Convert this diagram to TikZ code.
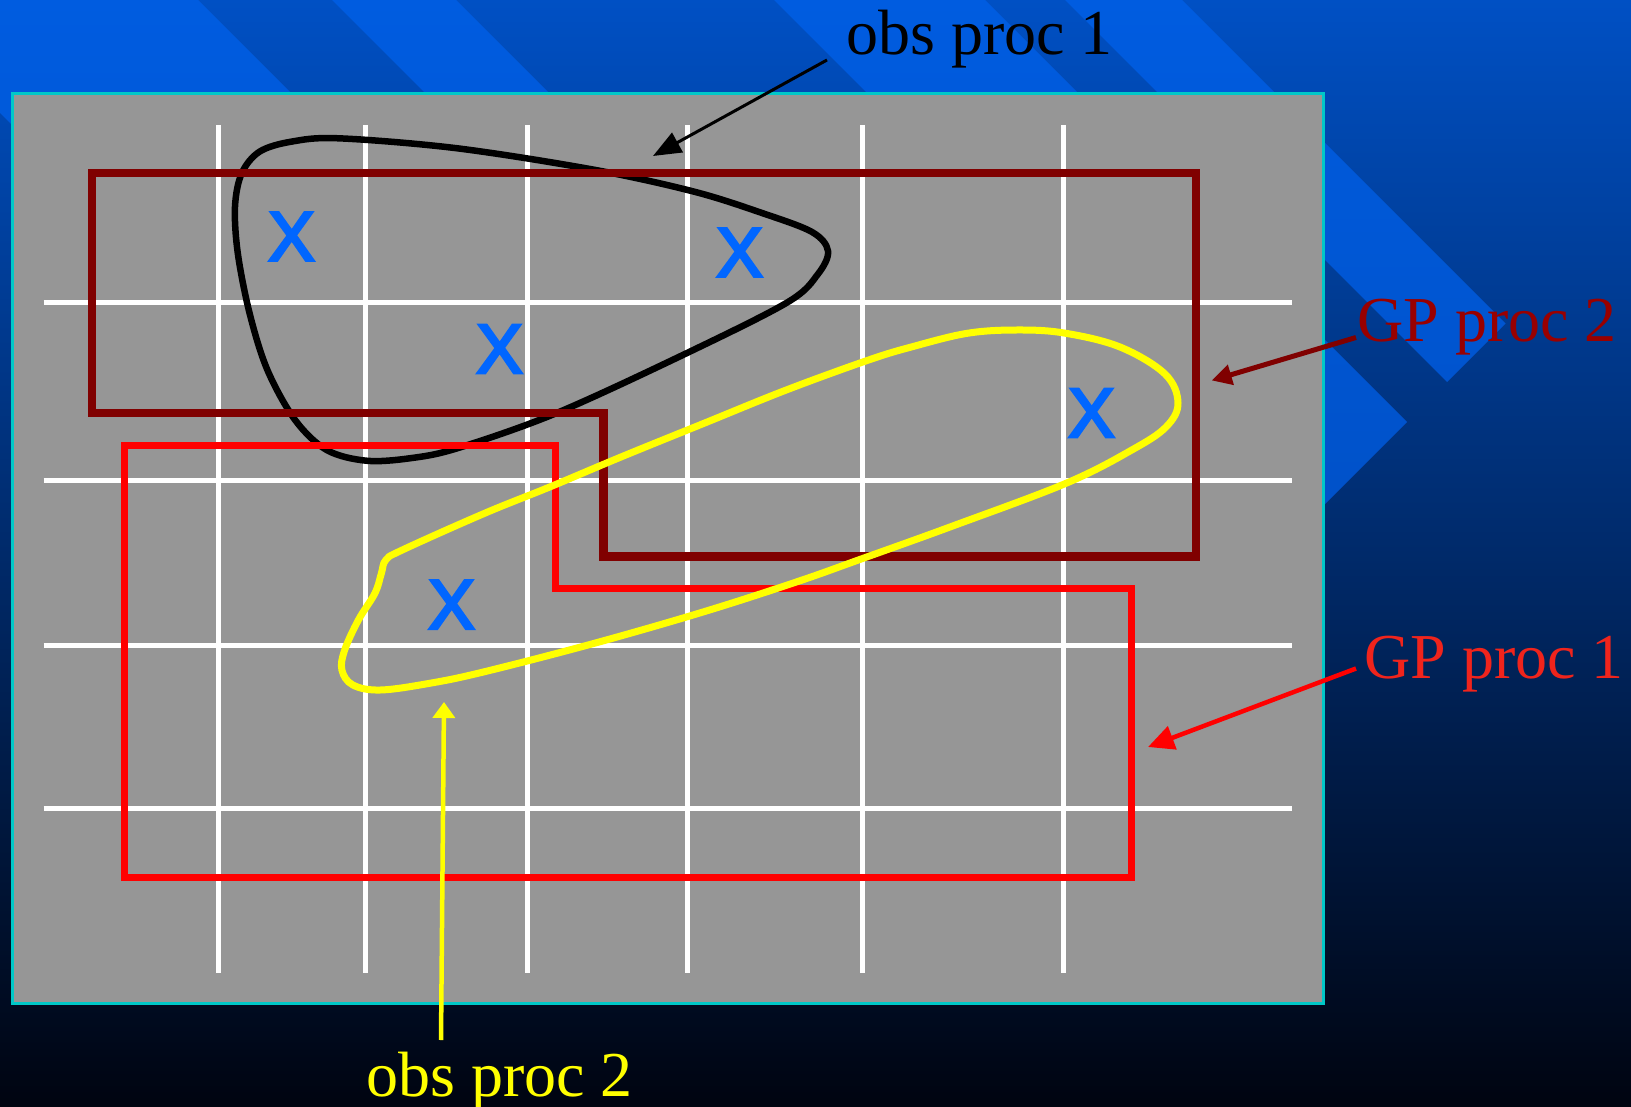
\documentclass[tikz,border=0pt]{standalone}
\usepackage{fontspec}
\setmainfont{Liberation Serif}
\newfontfamily\xsans[FakeBold=4]{Liberation Sans}
\usetikzlibrary{arrows.meta}
\definecolor{bgtop}{RGB}{0,80,196}
\definecolor{bgmid}{RGB}{0,40,112}
\definecolor{bgbot}{RGB}{0,4,16}
\definecolor{stripetop}{RGB}{0,92,224}
\definecolor{stripebot}{RGB}{0,72,180}
\definecolor{panelgray}{RGB}{150,150,150}
\definecolor{panelcyan}{RGB}{0,200,200}
\definecolor{gptwo}{RGB}{128,0,0}
\definecolor{gptwotext}{RGB}{153,0,0}
\definecolor{gpone}{RGB}{255,0,0}
\definecolor{gponetext}{RGB}{240,36,28}
\definecolor{xblue}{RGB}{0,102,255}
\definecolor{obsyellow}{RGB}{255,255,0}
\begin{document}
\begin{tikzpicture}[x=1pt,y=-1pt,
  gridline/.style={white, line width=5pt},
  lbl/.style={anchor=base west, inner sep=0pt, font=\fontsize{64}{70}\selectfont},
  xmark/.style={inner sep=0pt, text=xblue, font=\xsans\fontsize{70}{70}\selectfont},
  regiontwo/.style={gptwo, line width=8.5pt, line join=miter},
  regionone/.style={gpone, line width=7pt, line join=miter},
  obsone/.style={black, line width=6.5pt},
  obstwo/.style={obsyellow, line width=7pt},
]
\useasboundingbox (0,0) rectangle (1631,1107);
% background
\shade[top color=bgtop, middle color=bgmid, bottom color=bgbot] (0,0) rectangle (1631,1107);
\shade[top color=stripetop, bottom color=stripebot]
  (0,0) -- (198,0) -- (1013.5,815.5) -- (858,971) -- (0,113) -- cycle
  (332,0) -- (456,0) -- (1142.5,686.5) -- (1080.5,748.5) -- cycle
  (774,0) -- (985,0) -- (1407,422) -- (1301.5,527.5) -- cycle
  (1065,0) -- (1182,0) -- (1505.5,323.5) -- (1447,382) -- cycle;
% panel
\draw[panelcyan, line width=3pt, fill=panelgray] (12.5,93.5) rectangle (1323.5,1003.5);
% grid
\foreach \gx in {218.5,365.5,527.5,687.5,862.5,1063.5}
  \draw[gridline] (\gx,125) -- (\gx,973);
\foreach \gy in {302.5,480.5,645,808}
  \draw[gridline] (43.5,\gy) -- (1292,\gy);
% obs proc 1 region
\draw[obsone] plot[smooth cycle, tension=0.55] coordinates {
  (338.6,138.3) (291.1,141.7) (259.5,151.7) (241.7,173.3) (235,206.7)
  (237.8,253.3) (249.6,313.3) (267.4,370) (295.1,420) (326.7,450)
  (366.2,460.7) (409.7,458.3) (457.2,448.3) (556,413.3) (686.4,353.3)
  (788,302) (818,274) (828,251) (812,232) (762,213)
  (694.3,191.7) (595.5,170) (457.2,148.3)};
% GP regions
\draw[regiontwo] (92,173) -- (1196,173) -- (1196,556.5) -- (603.5,556.5) -- (603.5,413) -- (92,413) -- cycle;
\draw[regionone] (124,445) -- (555.5,445) -- (555.5,588.5) -- (1131,588.5) -- (1131,877) -- (124,877) -- cycle;
% obs proc 2 region
\draw[obstwo] plot[smooth cycle, tension=0.6] coordinates {
  (1016.7,330) (967.3,333.3) (912.4,346.7) (868.6,360) (786.3,390)
  (704,423.3) (621.7,456.7) (550.4,486.7) (484.6,513.3) (402.3,550)
  (385.8,560) (381.4,573.3) (374.9,593.3) (358.4,620) (344.7,650)
  (341.9,670) (352.9,685) (380.3,690) (429.7,683.3) (484.6,671.7)
  (594.3,643.3) (704,611.7) (797.2,581.7) (863.1,558.3) (950.8,526.7)
  (1066,483.3) (1131.8,450) (1166,427) (1178,403) (1165,374)
  (1120,347) (1064,333)};
% observation marks
\node[xmark] (x1) at (291.5,236.5) {X};
\node[xmark] (x2) at (739.6,252.5) {X};
\node[xmark] (x3) at (499.5,349) {X};
\node[xmark] (x4) at (1091.5,413) {X};
\node[xmark] (x5) at (451.5,604.7) {X};
% labels
\node[lbl, text=black] (obs1) at (846,55) {obs proc 1};
\node[lbl, text=gptwotext] (gp2) at (1357,342) {GP proc 2};
\node[lbl, text=gponetext] (gp1) at (1364,678) {GP proc 1};
\node[lbl, text=obsyellow] (obs2) at (366,1096) {obs proc 2};
% arrows
\coordinate (o1tail) at (827,60);
\coordinate (o1tip) at (653,156);
\coordinate (g2tail) at (1356,337.5);
\coordinate (g2tip) at (1211.7,380.5);
\coordinate (g1tail) at (1356,668.5);
\coordinate (g1tip) at (1148,747);
\coordinate (o2tail) at (441,1040);
\coordinate (o2tip) at (444,702);
\draw[black, line width=3pt, -{Triangle[length=28pt,width=22pt]}] (o1tail) -- (o1tip);
\draw[gptwo, line width=5pt, -{Triangle[length=20pt,width=20pt]}] (g2tail) -- (g2tip);
\draw[gpone, line width=4.5pt, -{Triangle[length=26pt,width=24pt]}] (g1tail) -- (g1tip);
\draw[obsyellow, line width=4.5pt, -{Triangle[length=16pt,width=22pt]}] (o2tail) -- (o2tip);
\end{tikzpicture}
\end{document}
